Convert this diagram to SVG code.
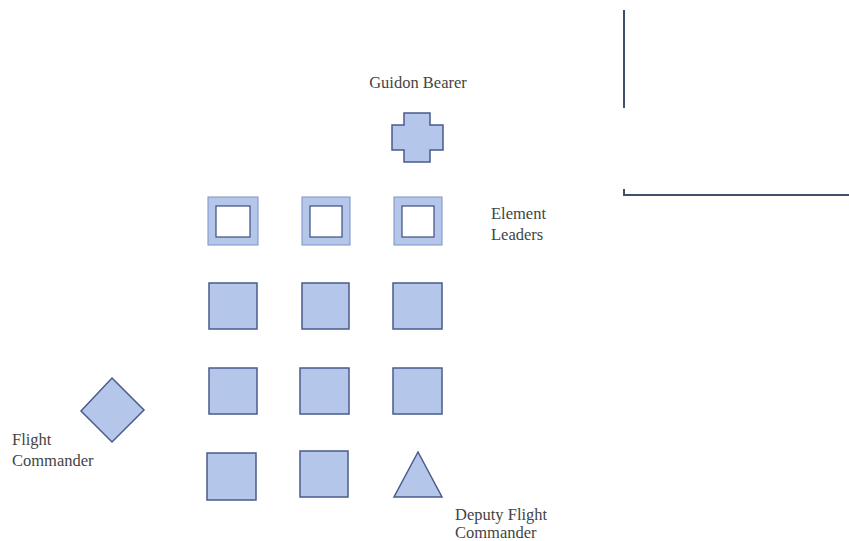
<svg xmlns="http://www.w3.org/2000/svg" width="849" height="541" viewBox="0 0 849 541">
<style>
.s{fill:#b4c6ea;stroke:#4a5b8c;stroke-width:1.5}
.o{fill:#b4c6ea;stroke:#7f90c4;stroke-width:1}
.in{fill:#ffffff;stroke:#3d4d80;stroke-width:1.2}
.t{font-family:"Liberation Serif",serif;font-size:16.5px;fill:#444}
.ln{stroke:#3f4f6e;stroke-width:2;fill:none}
</style>
<rect width="849" height="541" fill="#fff"/>
<g id="connectors">
<line class="ln" x1="624" y1="10" x2="624" y2="108"/>
<line class="ln" x1="624" y1="195" x2="849" y2="195"/>
<line class="ln" x1="624" y1="189" x2="624" y2="196"/>
</g>
<g id="guidon-bearer">
<text class="t" x="418" y="88" text-anchor="middle">Guidon Bearer</text>
<path class="s" d="M404,113 H430 V125 H443 V150 H430 V162 H404 V150 H392 V125 H404 Z"/>
</g>
<g id="element-leader-1">
<rect class="o" x="208" y="197" width="50" height="48"/>
<rect class="in" x="216" y="206" width="34" height="31"/>
</g>
<g id="element-leader-2">
<rect class="o" x="302" y="197" width="48" height="48"/>
<rect class="in" x="310" y="206" width="32" height="31"/>
</g>
<g id="element-leader-3">
<rect class="o" x="394" y="197" width="48" height="48"/>
<rect class="in" x="402" y="206" width="32" height="31"/>
</g>
<g id="element-leaders-label">
<text class="t" x="491" y="219">Element</text>
<text class="t" x="491" y="240">Leaders</text>
</g>
<g id="r2c1"><rect class="s" x="209" y="283" width="48" height="46"/></g>
<g id="r2c2"><rect class="s" x="302" y="283" width="47" height="46"/></g>
<g id="r2c3"><rect class="s" x="393" y="283" width="49" height="46"/></g>
<g id="r3c1"><rect class="s" x="209" y="368" width="48" height="46"/></g>
<g id="r3c2"><rect class="s" x="300" y="368" width="49" height="46"/></g>
<g id="r3c3"><rect class="s" x="393" y="368" width="49" height="46"/></g>
<g id="r4c1"><rect class="s" x="207" y="453" width="49" height="47"/></g>
<g id="r4c2"><rect class="s" x="300" y="451" width="48" height="46"/></g>
<g id="deputy-flight-commander">
<polygon class="s" points="418,452 442,497 394,497"/>
<text class="t" x="455" y="520">Deputy Flight</text>
<text class="t" x="455" y="538">Commander</text>
</g>
<g id="flight-commander">
<polygon class="s" points="112,378 144,410 112,442 81,411"/>
<text class="t" x="12" y="445">Flight</text>
<text class="t" x="12" y="466">Commander</text>
</g>
</svg>
